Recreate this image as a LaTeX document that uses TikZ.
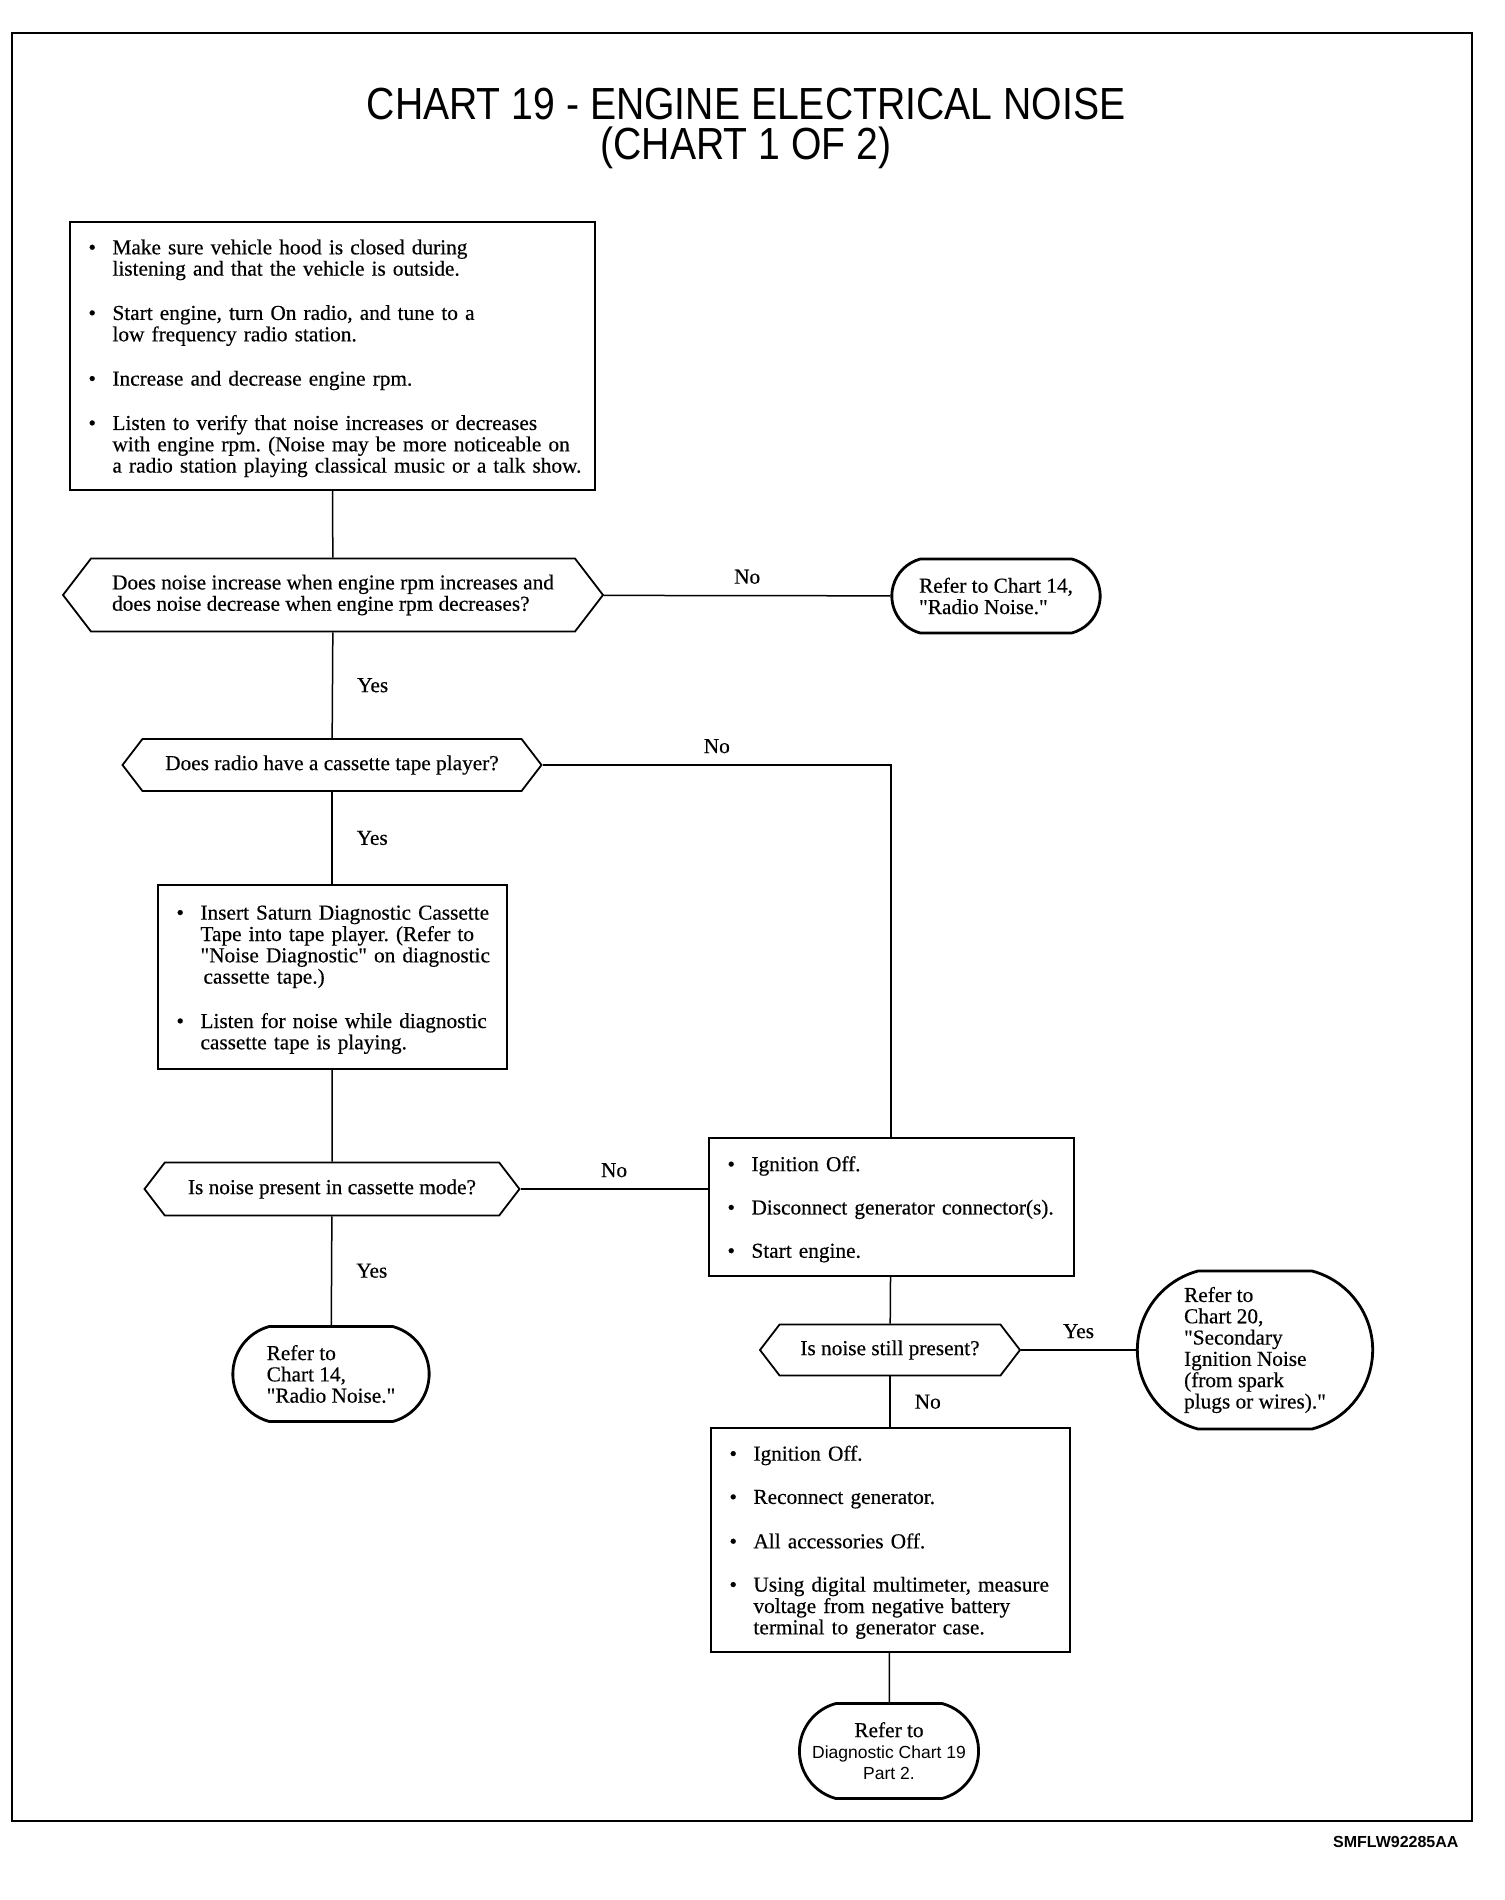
\documentclass[tikz,border=0pt]{standalone}
\usepackage{fontspec}
\newfontfamily\serif[FakeBold=0.4]{Liberation Serif}
\newfontfamily\titlefont[FakeStretch=0.87]{Liberation Sans}
\newfontfamily\helv{Liberation Sans}
\usetikzlibrary{positioning,shapes.symbols,shapes.misc}

\newcommand{\bodyfont}{\serif\fontsize{21.3}{21.3}\selectfont\frenchspacing}
\newlength{\bulw}\setlength{\bulw}{24pt}
\newcommand{\bul}[1]{\par\noindent\makebox[\bulw][l]{\textbullet}%
  \begin{tabular}[t]{@{}l@{}}#1\end{tabular}\par}
\newcommand{\bulgap}{\vspace{22pt}}

\begin{document}
\begin{tikzpicture}[x=1pt,y=-1pt,
    titl/.style={font=\titlefont\fontsize{45}{45}\selectfont,anchor=base,inner sep=0pt},
    box/.style={draw,line width=2pt,inner xsep=19pt,align=left,font=\bodyfont},
    dec/.style={signal,signal to=west and east,signal pointer angle=105,draw,
      line width=1.8pt,align=center,font=\bodyfont,inner xsep=4pt,inner ysep=2pt},
    term/.style={rounded rectangle,rounded rectangle arc length=150,draw,
      line width=2.8pt,align=left,font=\bodyfont},
    lbl/.style={font=\bodyfont,inner sep=4pt},
    conn/.style={line width=1.5pt}]
    \useasboundingbox (0,0) rectangle (1504,1900);
    % Cadre et titre
    \draw[line width=1.6pt] (12,33) rectangle (1472,1821);
    \node[titl] (title) at (746,120) {CHART 19 - ENGINE ELECTRICAL NOISE};
    \node[titl] (subtitle) at (746,160) {(CHART 1 OF 2)};

    % Colonne gauche
    \node[box,text width=487pt,minimum height=268pt] (check) at (332,356) {%
      \bul{Make sure vehicle hood is closed during\\listening and that the vehicle is outside.}\bulgap
      \bul{Start engine, turn On radio, and tune to a\\low frequency radio station.}\bulgap
      \bul{Increase and decrease engine rpm.}\bulgap
      \bul{Listen to verify that noise increases or decreases\\with engine rpm. (Noise may be more noticeable on\\a radio station playing classical music or a talk show.}};
    \node[dec,align=left,minimum width=540pt,minimum height=73pt] (rpm) at (333,595)
      {Does noise increase when engine rpm increases and\\does noise decrease when engine rpm decreases?};
    \node[term,minimum width=215pt,minimum height=74pt] (radio) at (996,596)
      {Refer to Chart 14,\\"Radio Noise."};
    \node[dec,minimum width=419pt,minimum height=52pt] (tape) at (332,765)
      {Does radio have a cassette tape player?};
    \node[box,text width=311pt,minimum height=184pt] (insert) at (332,977) {%
      \bul{Insert Saturn Diagnostic Cassette\\Tape into tape player. (Refer to\\"Noise Diagnostic" on diagnostic\\\hspace*{3pt}cassette tape.)}\bulgap
      \bul{Listen for noise while diagnostic\\cassette tape is playing.}};
    \node[dec,minimum width=375pt,minimum height=53pt] (mode) at (332,1189)
      {Is noise present in cassette mode?};
    \node[term,minimum width=203pt,minimum height=95pt] (radiob) at (331,1374)
      {Refer to\\Chart 14,\\"Radio Noise."};

    % Colonne droite
    \node[box,text width=327pt,minimum height=138pt] (discon) at (891,1207) {%
      \bul{Ignition Off.}\bulgap
      \bul{Disconnect generator connector(s).}\bulgap
      \bul{Start engine.}};
    \node[dec,minimum width=260pt,minimum height=51pt] (still) at (890,1350)
      {Is noise still present?};
    \node[term,minimum width=242pt,minimum height=158pt] (second) at (1255,1350)
      {Refer to\\Chart 20,\\"Secondary\\Ignition Noise\\(from spark\\plugs or wires)."};
    \node[box,text width=321pt,minimum height=224pt] (measure) at (890,1540) {%
      \bul{Ignition Off.}\bulgap
      \bul{Reconnect generator.}\bulgap
      \bul{All accessories Off.}\bulgap
      \bul{Using digital multimeter, measure\\voltage from negative battery\\terminal to generator case.}};
    \node[term,align=center,minimum width=179pt,minimum height=95pt] (part2) at (889,1751)
      {Refer to\\{\helv\fontsize{17.5}{21.5}\selectfont Diagnostic Chart 19}\\{\helv\fontsize{17.5}{21.5}\selectfont Part 2.}};

    \node[anchor=east,font=\helv\bfseries\fontsize{16}{16}\selectfont] (code) at (1462,1842) {SMFLW92285AA};

    % Liaisons
    \draw[conn] (check) -- (rpm);
    \draw[conn] (rpm) -- node[lbl,above=7pt] (no1) {No} (radio);
    \draw[conn] (rpm) -- node[lbl,right=20pt] (yes1) {Yes} (tape);
    \draw[conn] (tape.east) -| node[lbl,above=7pt,pos=0.25] (no2) {No} (discon.north);
    \draw[conn] (tape) -- node[lbl,right=20pt] (yes2) {Yes} (insert);
    \draw[conn] (insert) -- (mode);
    \draw[conn] (mode.east) -- node[lbl,above=7pt] (no3) {No} (mode.east -| discon.west);
    \draw[conn] (mode) -- node[lbl,right=20pt] (yes3) {Yes} (radiob);
    \draw[conn] (discon) -- (still);
    \draw[conn] (still.east) -- node[lbl,above=7pt] (yes4) {Yes} (second.west);
    \draw[conn] (still) -- node[lbl,right=20pt] (no4) {No} (measure);
    \draw[conn] (measure) -- (part2);
\end{tikzpicture}
\end{document}
